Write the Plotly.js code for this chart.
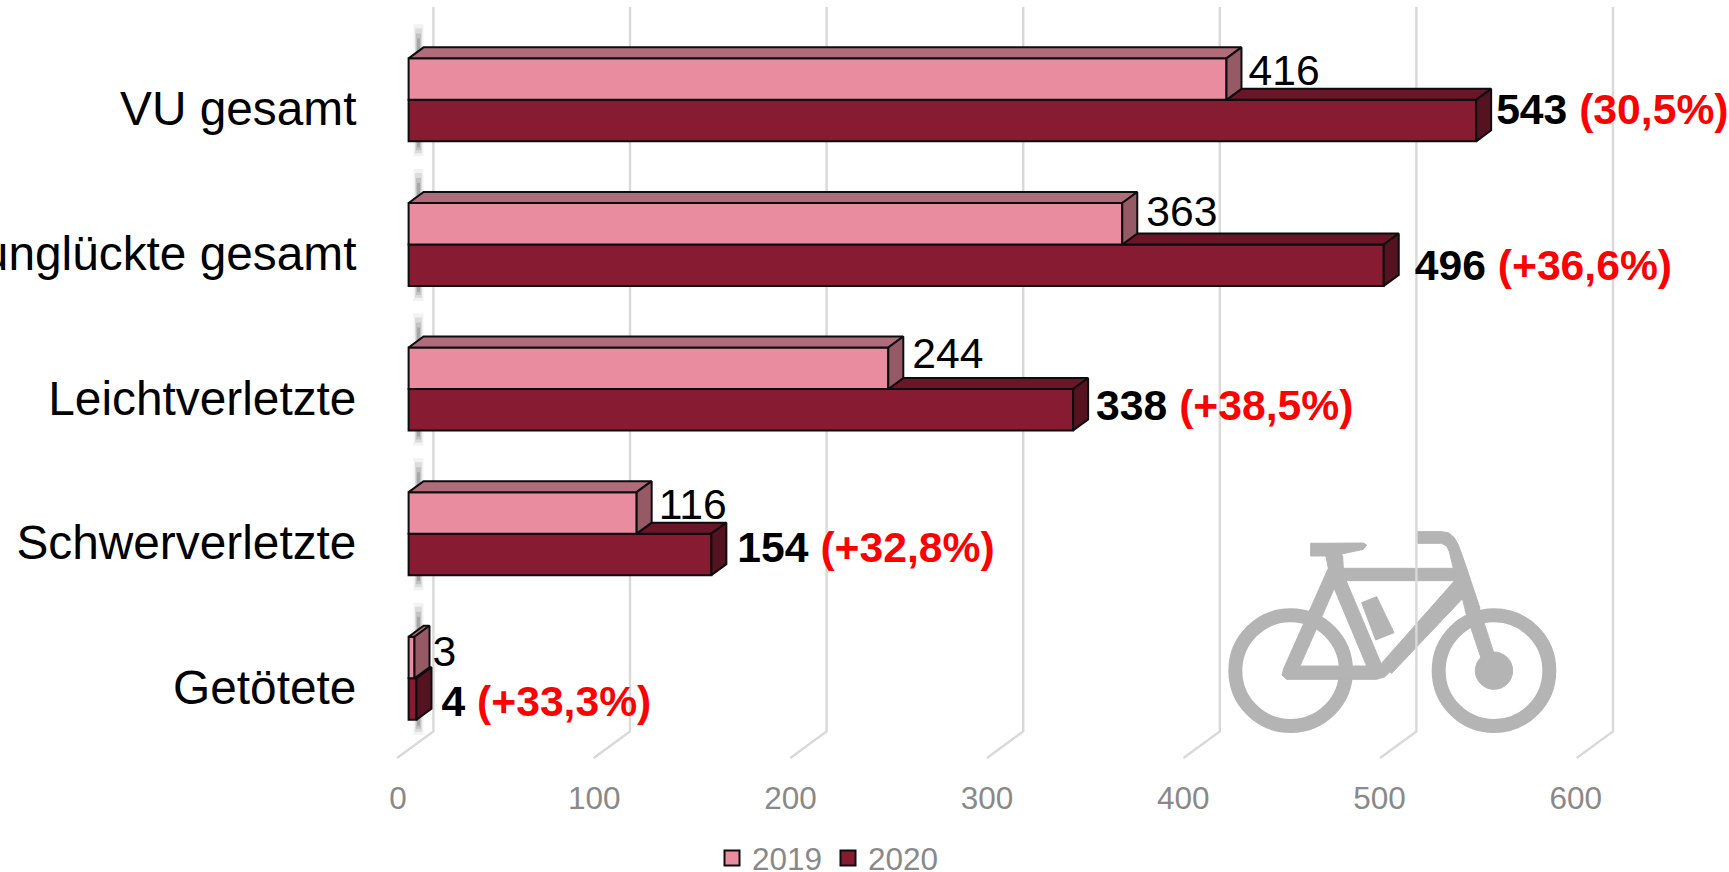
<!DOCTYPE html>
<html><head><meta charset="utf-8">
<script src="https://cdn.plot.ly/plotly-3.0.0.min.js"></script>
<style>html,body{margin:0;padding:0;background:#fff;overflow:hidden}#c{width:1729px;height:872px}</style>
</head><body><div id="c"></div><script>
// ---- data ----
const categories = ["VU gesamt","Verunglückte gesamt","Leichtverletzte","Schwerverletzte","Getötete"];
const values2019 = [416,363,244,116,3];
const values2020 = [543,496,338,154,4];
const changes2020 = ["(30,5%)","(+36,6%)","(+38,5%)","(+32,8%)","(+33,3%)"];
const xTicks = [0,100,200,300,400,500,600];
// small hand placement of the labels, in pixels (from end of bar / from bar centre)
const label19Dx = [22,24,24,22,18];
const label19Dy = [-5,-8,-11,-5,-2];
const label20Dx = [20,31,23,26,25];
const label20Dy = [-7,4,0,-3,6];

// ---- px <-> data helpers ----
const W=1729,H=872, X0=408.6, PX=1.966, CAT0=108.6, CATH=144.6;
const plotL=378, plotB=760;
const dx=p=>p/PX, dy=p=>p/CATH;
const fx=p=>(p-X0)/PX, fy=p=>(p-CAT0)/CATH;
const BAR=41.5/CATH, SHIFT=(79.1-CAT0)/CATH;   // bar height, 2019 centre offset
const DX=dx(15), DY=dy(11);
const idx=categories.map((_,i)=>i);
const c19=idx.map(i=>i+SHIFT), c20=idx.map(i=>i+SHIFT+BAR);

const PINK="#e98ca0",PINK_T="#b06c7b",PINK_S="#965a67",
      DARK="#861b32",DARK_T="#6a1628",DARK_S="#551220",EDGE="#0d0d0d";

function face(xs,ys,color,name){return{type:"scatter",mode:"lines",x:xs,y:ys,fill:"toself",fillcolor:color,
  line:{color:EDGE,width:2},showlegend:false,hoverinfo:"skip",cliponaxis:false,name:name};}
const traces=[];
// front faces: real bars
function bars(vals,ys,color,name){return{type:"bar",orientation:"h",x:vals,y:ys,width:BAR,base:0,name:name,
  marker:{color:color,line:{color:EDGE,width:2}},showlegend:false,cliponaxis:false,hoverinfo:"x+name"};}
traces.push(bars(values2020,c20,DARK,"2020"));
traces.push(bars(values2019,c19,PINK,"2019"));
// depth faces
idx.forEach(i=>{
  const a=values2019[i],b=values2020[i],t19=c19[i]-BAR/2,mid=c19[i]+BAR/2,bot=c20[i]+BAR/2;
  traces.push(face([a,b,b+DX,a+DX,a],[mid,mid,mid-DY,mid-DY,mid],DARK_T,"top 2020"));
  traces.push(face([b,b+DX,b+DX,b,b],[mid,mid-DY,bot-DY,bot,mid],DARK_S,"side 2020"));
  traces.push(face([0,a,a+DX,DX,0],[t19,t19,t19-DY,t19-DY,t19],PINK_T,"top 2019"));
  traces.push(face([a,a+DX,a+DX,a,a],[t19,t19-DY,mid-DY,mid,t19],PINK_S,"side 2019"));
});
// value labels
traces.push({type:"scatter",mode:"text",x:values2019.map((v,i)=>v+dx(label19Dx[i])),
  y:c19.map((v,i)=>v+dy(label19Dy[i])),text:values2019.map(String),textposition:"middle right",
  textfont:{family:"Liberation Sans, Arial, sans-serif",size:42.67,color:"#000"},showlegend:false,hoverinfo:"skip",cliponaxis:false});
traces.push({type:"scatter",mode:"text",x:values2020.map((v,i)=>v+dx(label20Dx[i])),
  y:c20.map((v,i)=>v+dy(label20Dy[i])),
  text:values2020.map((v,i)=>`<b>${v}</b> <b><span style="color:#ff0000">${changes2020[i]}</span></b>`),
  textposition:"middle right",textfont:{family:"Liberation Sans, Arial, sans-serif",size:42.67,color:"#000"},
  showlegend:false,hoverinfo:"skip",cliponaxis:false});
// legend entries
[["2019",PINK],["2020",DARK]].forEach(([n,c])=>traces.push({type:"scatter",mode:"markers",x:[null],y:[null],name:n,
  marker:{symbol:"square",size:15,color:c,line:{color:EDGE,width:2}},hoverinfo:"skip"}));

// ---- decoration, all below the traces ----
const shapes=[];
const BK="#b4b4b4";
const zx=z=>fx(1200+z/3), zy=z=>fy(510+z/3);
function poly(pts){return {type:"path",layer:"below",xref:"x",yref:"y",fillcolor:BK,line:{color:BK,width:1},
  path:pts.map((p,i)=>(i?"L":"M")+zx(p[0])+","+zy(p[1])).join(" ")+" Z"};}
function ring(cz,cyz,rz,w,fill){return {type:"circle",layer:"below",xref:"x",yref:"y",
  x0:zx(cz-rz),x1:zx(cz+rz),y0:zy(cyz-rz),y1:zy(cyz+rz),fillcolor:fill||"rgba(0,0,0,0)",line:{color:BK,width:w}};}
shapes.push(ring(272,482,166,14));
shapes.push(ring(882,482,166,14));
shapes.push(ring(882,482,56,1,BK));
[
 // saddle
 [[332,100],[490,99],[500,105],[490,118],[425,132],[428,145],[380,145],[378,138],[332,138]],
 // seat post + seat stay
 [[378,138],[428,138],[430,178],[405,230],[300,468],[300,490],[248,495],[250,478],[385,175]],
 // seat tube
 [[392,210],[425,180],[545,465],[505,480]],
 // top tube
 [[415,175],[770,175],[775,212],[440,212]],
 // chain stay
 [[255,468],[500,468],[540,465],[575,480],[555,500],[530,508],[260,508],[246,495]],
 // down tube
 [[770,205],[795,258],[575,490],[540,465]],
 // handlebar + head tube
 [[653,65],[725,65],[745,68],[762,82],[775,105],[795,160],[840,295],[800,315],[785,258],[760,175],[748,125],[740,108],[725,100],[653,100]],
 // fork
 [[795,300],[835,285],[885,440],[845,450]],
 // battery
 [[485,278],[530,260],[582,368],[527,390]]
].forEach(p=>shapes.push(poly(p)));
// blurred stub of the axis line, visible only between the bars
idx.forEach(i=>{
  const top=CAT0+CATH*i+SHIFT*CATH-20.75-11;
  const bot=top+11+83;
  [[10,"rgba(130,130,130,.10)",23,15],[7,"rgba(120,120,120,.18)",19,12],[5,"rgba(110,110,110,.22)",14,9],[3,"rgba(90,90,90,.26)",9,6]].forEach(([w,c,a,b])=>{
    shapes.push({type:"line",layer:"below",xref:"x",yref:"y",x0:fx(418.5),x1:fx(418.5),y0:fy(top-a),y1:fy(bot+b),line:{color:c,width:w}});
  });
});
// 3-D grid: back wall + floor return
xTicks.forEach(t=>{
  const gl={color:"#d9d9d9",width:2.4};
  shapes.push({type:"path",layer:"below",xref:"x",yref:"y",line:gl,
    path:`M${t+dx(24.8)},${fy(7)} L${t+dx(24.8)},${fy(731.5)} L${t-dx(11.5)},${fy(758)}`});
});

const layout={
  width:W,height:H,paper_bgcolor:"#fff",plot_bgcolor:"rgba(0,0,0,0)",
  margin:{l:plotL,r:0,t:0,b:H-plotB,autoexpand:false,pad:0},
  barmode:"overlay",
  font:{family:"Liberation Sans, Arial, sans-serif"},
  xaxis:{range:[fx(plotL),fx(W)],showgrid:false,zeroline:false,showline:false,
    tickmode:"array",tickvals:xTicks.map(t=>t*0.9985+fx(398)),ticktext:xTicks.map(String),
    ticks:"outside",ticklen:10,tickcolor:"rgba(0,0,0,0)",
    tickfont:{size:31.5,color:"#898989"}},
  yaxis:{range:[fy(plotB),fy(0)],showgrid:false,zeroline:false,showline:false,
    tickmode:"array",tickvals:idx,ticktext:categories,
    ticks:"outside",ticklen:11,tickcolor:"rgba(0,0,0,0)",
    tickfont:{size:47.8,color:"#000"}},
  showlegend:true,
  legend:{orientation:"h",xref:"container",yref:"container",x:712/W,xanchor:"left",y:(H-858)/H,yanchor:"middle",
    entrywidth:71,entrywidthmode:"pixels",font:{size:31.5,color:"#898989"},bgcolor:"rgba(0,0,0,0)",traceorder:"normal"},
  shapes:shapes
};
Plotly.newPlot("c",traces,layout,{displayModeBar:false,responsive:false});
</script></body></html>
